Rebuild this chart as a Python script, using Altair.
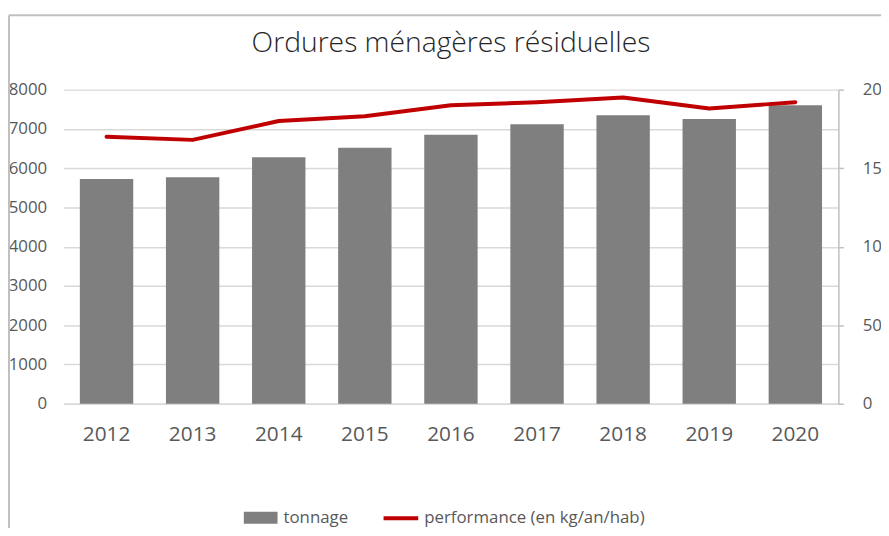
import altair as alt
import pandas as pd

years = ["2012", "2013", "2014", "2015", "2016", "2017", "2018", "2019", "2020"]
tonnage = [5725, 5770, 6280, 6520, 6850, 7120, 7350, 7250, 7600]
performance = [170, 168, 180, 183, 190, 192, 195, 188, 192]

df = pd.DataFrame({"annee": years, "tonnage": tonnage, "performance": performance})

FONT = "Open Sans"
LABEL = "#595959"
base = alt.Chart(df)

bars = base.transform_calculate(s1="'tonnage'").mark_bar().encode(
    x=alt.X("annee:N", sort=years, title=None,
            scale=alt.Scale(paddingInner=0.38, paddingOuter=0.19),
            axis=alt.Axis(labelAngle=0, labelFontSize=21, labelColor=LABEL, labelFont=FONT,
                          ticks=False, domainColor="#d9d9d9", domainWidth=1.5, labelPadding=20)),
    y=alt.Y("tonnage:Q", title=None, scale=alt.Scale(domain=[0, 8000]),
            axis=alt.Axis(values=[0, 1000, 2000, 3000, 4000, 5000, 6000, 7000, 8000], format="d",
                          grid=True, gridColor="#d9d9d9", gridWidth=1.5, domain=False, ticks=False,
                          labelFontSize=17, labelColor=LABEL, labelFont=FONT, labelPadding=17)),
    color=alt.Color("s1:N", scale=alt.Scale(range=["#7f7f7f"]),
                    legend=alt.Legend(title=None, orient="none", legendX=176, legendY=409,
                                      symbolType="stroke", symbolSize=1156,
                                      symbolStrokeWidth=12, symbolStrokeColor="#7f7f7f",
                                      labelFontSize=17, labelColor=LABEL, labelFont=FONT,
                                      labelOffset=0, labelLimit=400)),
)

line = base.transform_calculate(s2="'performance (en kg/an/hab)'").mark_line(
    strokeWidth=4, strokeCap="round", strokeJoin="round").encode(
    x=alt.X("annee:N", sort=years),
    y=alt.Y("performance:Q", title=None, scale=alt.Scale(domain=[0, 200]),
            axis=alt.Axis(orient="right", values=[0, 50, 100, 150, 200], grid=False,
                          domain=True, domainColor="#bfbfbf", domainWidth=1.5,
                          ticks=True, tickSize=5, tickColor="#bfbfbf", tickWidth=1.5,
                          labelFontSize=17, labelColor=LABEL, labelFont=FONT, labelPadding=19)),
    color=alt.Color("s2:N", scale=alt.Scale(range=["#c00000"]),
                    legend=alt.Legend(title=None, orient="none", legendX=321, legendY=413,
                                      symbolType="stroke", symbolSize=1225, symbolStrokeWidth=4,
                                      labelFontSize=17, labelColor=LABEL, labelFont=FONT,
                                      labelOffset=4, labelLimit=400)),
)

frame_df = pd.DataFrame({"k": [0]})
frame_left = alt.Chart(frame_df).mark_rule(color="#c0c0c0", strokeWidth=2).encode(
    x=alt.value(-55), y=alt.value(-75), y2=alt.value(460))
frame_top = alt.Chart(frame_df).mark_rule(color="#c0c0c0", strokeWidth=2).encode(
    x=alt.value(-55), x2=alt.value(900), y=alt.value(-75))

chart = alt.layer(frame_left, frame_top, bars, line).resolve_scale(
    y="independent", color="independent"
).properties(
    width=782, height=317,
    autosize=alt.AutoSizeParams(type="none"),
    padding={"left": 56, "top": 80, "right": 43, "bottom": 123},
    title=alt.TitleParams("Ordures ménagères résiduelles", fontSize=28.5, font=FONT,
                          fontWeight=300, color="#262626", anchor="middle", frame="group",
                          offset=-44),
).configure_view(stroke=None)

chart.save("out.html", embed_options={"renderer": "svg", "actions": False})
